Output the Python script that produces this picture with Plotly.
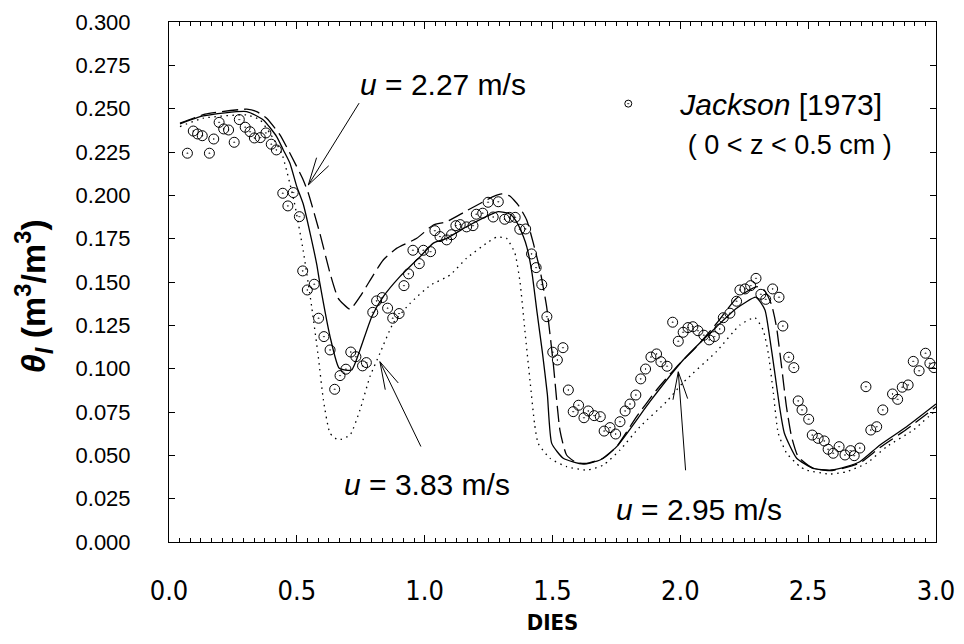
import math
import plotly.graph_objects as go

# ---------------- data ----------------
obs_x = [0.072, 0.095, 0.112, 0.130, 0.158, 0.175, 0.196, 0.214, 0.233, 0.255, 0.275, 0.298, 0.317, 0.334,
         0.357, 0.379, 0.400, 0.420, 0.445, 0.465, 0.486, 0.510, 0.523, 0.541, 0.568, 0.585, 0.606, 0.630,
         0.648, 0.669, 0.692, 0.711, 0.731, 0.757, 0.772, 0.797, 0.812, 0.834, 0.855, 0.875, 0.900, 0.919,
         0.937, 0.954, 0.979, 0.995, 1.023, 1.040, 1.060, 1.086, 1.105, 1.122, 1.139, 1.164, 1.189, 1.202,
         1.227, 1.248, 1.268, 1.288, 1.313, 1.331, 1.354, 1.372, 1.395, 1.418, 1.436, 1.458, 1.478, 1.501,
         1.519, 1.541, 1.562, 1.581, 1.602, 1.623, 1.640, 1.663, 1.687, 1.702, 1.725, 1.747, 1.764, 1.784,
         1.803, 1.826, 1.845, 1.864, 1.885, 1.907, 1.924, 1.948, 1.970, 1.992, 2.011, 2.030, 2.049, 2.069,
         2.092, 2.113, 2.133, 2.154, 2.168, 2.194, 2.220, 2.233, 2.253, 2.275, 2.296, 2.315, 2.334, 2.361,
         2.386, 2.401, 2.424, 2.444, 2.461, 2.476, 2.502, 2.516, 2.539, 2.563, 2.578, 2.598, 2.621, 2.644,
         2.666, 2.680, 2.702, 2.726, 2.745, 2.768, 2.792, 2.830, 2.850, 2.868, 2.891, 2.911, 2.934, 2.959,
         2.976, 2.992]
obs_y = [0.2243, 0.2371, 0.2354, 0.2344, 0.2243, 0.2325, 0.2421, 0.2383, 0.2377, 0.2306, 0.2437, 0.2393,
         0.2367, 0.2331, 0.2333, 0.2360, 0.2295, 0.2262, 0.2012, 0.1939, 0.2016, 0.1877, 0.1564, 0.1454,
         0.1487, 0.1291, 0.1185, 0.1108, 0.0881, 0.0960, 0.0997, 0.1096, 0.1069, 0.1016, 0.1035, 0.1325,
         0.1391, 0.1410, 0.1349, 0.1291, 0.1318, 0.1479, 0.1547, 0.1683, 0.1606, 0.1683, 0.1675, 0.1796,
         0.1762, 0.1743, 0.1773, 0.1825, 0.1831, 0.1818, 0.1825, 0.1891, 0.1897, 0.1960, 0.1875, 0.1963,
         0.1862, 0.1873, 0.1873, 0.1804, 0.1806, 0.1662, 0.1583, 0.1485, 0.1300, 0.1095, 0.1050, 0.1121,
         0.0877, 0.0752, 0.0789, 0.0717, 0.0756, 0.0729, 0.0723, 0.0640, 0.0660, 0.0623, 0.0694, 0.0756,
         0.0796, 0.0848, 0.0941, 0.0998, 0.1067, 0.1085, 0.1040, 0.1014, 0.1268, 0.1158, 0.1210, 0.1237,
         0.1242, 0.1219, 0.1193, 0.1166, 0.1185, 0.1229, 0.1294, 0.1320, 0.1389, 0.1454, 0.1460, 0.1479,
         0.1521, 0.1429, 0.1400, 0.1460, 0.1412, 0.1246, 0.1066, 0.1006, 0.0814, 0.0762, 0.0708, 0.0617,
         0.0598, 0.0583, 0.0535, 0.0512, 0.0550, 0.0502, 0.0527, 0.0498, 0.0542, 0.0896, 0.0646, 0.0665,
         0.0762, 0.0854, 0.0823, 0.0893, 0.0906, 0.1042, 0.0988, 0.1089, 0.1031, 0.1006]

# u = 2.27 m/s (dashed)
u227_x = [0.043, 0.141, 0.304, 0.343, 0.382, 0.434, 0.480, 0.525, 0.545, 0.590, 0.630, 0.662, 0.708, 0.747,
          0.799, 0.838, 0.890, 0.969, 1.034, 1.086, 1.164, 1.268, 1.301, 1.333, 1.366, 1.399, 1.425, 1.451,
          1.477, 1.503, 1.529, 1.555, 1.594, 1.634, 1.699, 1.751, 1.829, 1.907, 1.986, 2.064, 2.142, 2.220,
          2.300, 2.330, 2.357, 2.376, 2.396, 2.415, 2.435, 2.461, 2.520, 2.585, 2.650, 2.702, 2.781, 2.885, 3.000]
u227_y = [0.2416, 0.2468, 0.2497, 0.2483, 0.2445, 0.2349, 0.2223, 0.2089, 0.2012, 0.1781, 0.1550, 0.1406,
          0.1343, 0.1415, 0.1540, 0.1627, 0.1694, 0.1752, 0.1829, 0.1848, 0.1911, 0.1992, 0.2008, 0.1996,
          0.1944, 0.1858, 0.1724, 0.1569, 0.1358, 0.1030, 0.0646, 0.0502, 0.0458, 0.0454, 0.0483, 0.0550,
          0.0723, 0.0877, 0.1012, 0.1127, 0.1262, 0.1406, 0.1473, 0.1450, 0.1368, 0.1242, 0.1012, 0.0781,
          0.0608, 0.0492, 0.0425, 0.0412, 0.0430, 0.0455, 0.0545, 0.0650, 0.0780]

# u = 2.95 m/s (solid)
u295_x = [0.043, 0.134, 0.304, 0.369, 0.421, 0.447, 0.473, 0.500, 0.525, 0.552, 0.578, 0.590, 0.630, 0.666,
          0.714, 0.747, 0.793, 0.838, 0.903, 0.982, 1.034, 1.086, 1.164, 1.255, 1.288, 1.333, 1.359, 1.386,
          1.400, 1.420, 1.440, 1.460, 1.480, 1.497, 1.542, 1.620, 1.686, 1.751, 1.881, 2.011, 2.142, 2.220,
          2.296, 2.331, 2.349, 2.368, 2.388, 2.407, 2.455, 2.520, 2.585, 2.650, 2.702, 2.781, 2.885, 3.000]
u295_y = [0.2412, 0.2458, 0.2483, 0.2435, 0.2339, 0.2262, 0.2185, 0.2050, 0.1950, 0.1781, 0.1600, 0.1493,
          0.1185, 0.1002, 0.0992, 0.1108, 0.1300, 0.1415, 0.1531, 0.1646, 0.1724, 0.1752, 0.1819, 0.1887,
          0.1906, 0.1892, 0.1848, 0.1762, 0.1700, 0.1550, 0.1320, 0.1100, 0.0850, 0.0569, 0.0483, 0.0450,
          0.0473, 0.0550, 0.0810, 0.1050, 0.1242, 0.1348, 0.1412, 0.1339, 0.1185, 0.0992, 0.0781, 0.0627,
          0.0483, 0.0425, 0.0415, 0.0435, 0.0463, 0.0560, 0.0665, 0.0796]

# u = 3.83 m/s (dotted)
u383_x = [0.043, 0.134, 0.304, 0.356, 0.395, 0.441, 0.490, 0.525, 0.558, 0.584, 0.604, 0.630, 0.662, 0.708,
          0.747, 0.786, 0.825, 0.877, 0.943, 1.021, 1.099, 1.164, 1.242, 1.281, 1.320, 1.353, 1.373, 1.392,
          1.412, 1.430, 1.444, 1.490, 1.555, 1.634, 1.699, 1.764, 1.842, 1.946, 2.011, 2.142, 2.233, 2.292,
          2.324, 2.344, 2.364, 2.383, 2.416, 2.468, 2.494, 2.585, 2.650, 2.728, 2.807, 2.911, 3.000]
u383_y = [0.2397, 0.2445, 0.2464, 0.2435, 0.2358, 0.2242, 0.1960, 0.1680, 0.1358, 0.1069, 0.0819, 0.0627,
          0.0589, 0.0617, 0.0762, 0.0954, 0.1089, 0.1262, 0.1377, 0.1480, 0.1540, 0.1637, 0.1724, 0.1758,
          0.1752, 0.1666, 0.1500, 0.1220, 0.0930, 0.0680, 0.0569, 0.0483, 0.0435, 0.0415, 0.0444, 0.0531,
          0.0665, 0.0810, 0.0920, 0.1100, 0.1252, 0.1294, 0.1223, 0.1089, 0.0858, 0.0627, 0.0512, 0.0435,
          0.0415, 0.0392, 0.0406, 0.0454, 0.0550, 0.0646, 0.0762]

y_ticks = [0.000, 0.025, 0.050, 0.075, 0.100, 0.125, 0.150, 0.175, 0.200, 0.225, 0.250, 0.275, 0.300]
y_ticktext = ["0.000", "0.025", "0.050", "0.075", "0.100", "0.125", "0.150", "0.175", "0.200",
              "0.225", "0.250", "0.275", "0.300"]
x_ticks = [0.0, 0.5, 1.0, 1.5, 2.0, 2.5, 3.0]
x_ticktext = ["0.0", "0.5", "1.0", "1.5", "2.0", "2.5", "3.0"]

labels = ["<i>u</i> = 2.27 m/s", "<i>u</i> = 3.83 m/s", "<i>u</i> = 2.95 m/s"]
label_pos = [(1.072, 0.2637), (1.009, 0.0329), (2.073, 0.0190)]
# arrow tips (data) and tail offsets (px)
arrow_tip = [(0.545, 0.2060), (0.825, 0.1040), (1.992, 0.0982)]
arrow_tail = [(51.7, -83.3), (41.7, 86.3), (7.4, 100.0)]

legend_name = ("<i>Jackson</i> [1973]<br><span style='font-size:27px'> ( 0 &lt; z &lt; 0.5 cm )</span>")
y_title = "<b><i>θ</i><sub><i>l</i></sub> (m<sup>3</sup>/m<sup>3</sup>)</b>"

# ---------------- figure ----------------
BASE = "Liberation Sans, Arial, sans-serif"
NARROW = "Liberation Sans Narrow, Arial Narrow, DejaVu Sans Condensed, sans-serif"

fig = go.Figure()
fig.add_trace(go.Scatter(x=u383_x, y=u383_y, mode="lines", showlegend=False,
                         line=dict(color="black", width=1.3, dash="1.5px,4.5px", shape="spline", smoothing=0.5)))
fig.add_trace(go.Scatter(x=u227_x, y=u227_y, mode="lines", showlegend=False,
                         line=dict(color="black", width=1.3, dash="16px,6px", shape="spline", smoothing=0.5)))
fig.add_trace(go.Scatter(x=u295_x, y=u295_y, mode="lines", showlegend=False,
                         line=dict(color="black", width=1.3, shape="spline", smoothing=0.5)))
fig.add_trace(go.Scatter(x=obs_x, y=obs_y, mode="markers", showlegend=False,
                         marker=dict(symbol="circle-open-dot", size=10, color="black", line=dict(width=1))))
fig.add_trace(go.Scatter(x=[None], y=[None], mode="markers", name=legend_name, showlegend=True,
                         marker=dict(symbol="circle-open-dot", size=7, color="black", line=dict(width=1))))

for (lx, ly), t in zip(label_pos, labels):
    fig.add_annotation(x=lx, y=ly, xref="x", yref="y", text=t, showarrow=False,
                       font=dict(family=BASE, size=30, color="black"))

for (tx, ty), (dx, dy) in zip(arrow_tip, arrow_tail):
    fig.add_annotation(x=tx, y=ty, xref="x", yref="y", ax=dx, ay=dy, text="", showarrow=True,
                       arrowhead=0, arrowwidth=1, arrowcolor="black", standoff=0, startstandoff=0)
    ang = math.atan2(dy, dx)
    for s in (-1, 1):
        a = ang + s * math.radians(15)
        fig.add_annotation(x=tx, y=ty, xref="x", yref="y", ax=30 * math.cos(a), ay=30 * math.sin(a),
                           text="", showarrow=True, arrowhead=0, arrowwidth=1, arrowcolor="black",
                           standoff=0, startstandoff=0)

# y-axis title as rotated annotation
fig.add_annotation(x=-0.177, y=0.473, xref="paper", yref="paper", text=y_title, textangle=-90,
                   showarrow=False, xanchor="center", yanchor="middle",
                   font=dict(family=BASE, size=34, color="black"))

fig.update_layout(
    width=964, height=644,
    margin=dict(l=169, r=28, t=22, b=102),
    paper_bgcolor="white", plot_bgcolor="white",
    font=dict(family=BASE, color="black"),
    showlegend=True,
    legend=dict(x=0.531, y=0.893, xanchor="left", yanchor="top", bgcolor="rgba(0,0,0,0)",
                font=dict(family=BASE, size=30, color="black"), itemwidth=94, valign="top",
                tracegroupgap=0),
    xaxis=dict(range=[0, 3], tickvals=x_ticks, ticktext=x_ticktext, ticks="inside", ticklen=7,
               tickcolor="black", tickwidth=1, showline=True, linecolor="black", linewidth=1,
               mirror="ticks", showgrid=False, zeroline=False, automargin=False,
               tickfont=dict(family=NARROW, size=27, color="black"), ticklabelstandoff=25,
               minor=dict(dtick=1 / 24, tick0=0, ticks="inside", ticklen=4, tickcolor="black",
                          showgrid=False),
               title=dict(text="<b>DIES</b>", font=dict(family=NARROW, size=22, color="black"),
                          standoff=9)),
    yaxis=dict(range=[0, 0.3], tickvals=y_ticks, ticktext=y_ticktext, ticks="inside", ticklen=6,
               tickcolor="black", tickwidth=1, showline=True, linecolor="black", linewidth=1,
               mirror="ticks", showgrid=False, zeroline=False, automargin=False,
               tickfont=dict(family=BASE, size=22, color="black"), ticklabelstandoff=33),
)

fig.write_html("out.html")
